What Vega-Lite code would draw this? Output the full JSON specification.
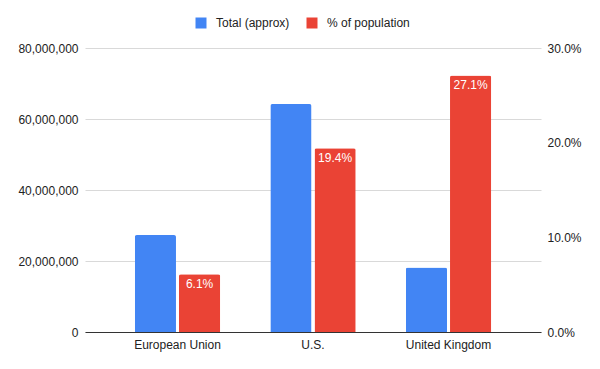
{
  "$schema": "https://vega.github.io/schema/vega-lite/v6.json",
  "width": 456,
  "height": 284,
  "autosize": "none",
  "padding": {"left": 85, "top": 48, "right": 59, "bottom": 37},
  "background": "white",
  "config": {
    "font": "Liberation Sans",
    "view": {"stroke": null},
    "axis": {"labelFont": "Liberation Sans", "labelFontSize": 12, "labelColor": "#222222", "titleFontSize": 12, "labelOverlap": false}
  },
  "data": {
    "values": [
      {"region": "European Union", "series": "Total (approx)", "total": 27300000},
      {"region": "U.S.", "series": "Total (approx)", "total": 64200000},
      {"region": "United Kingdom", "series": "Total (approx)", "total": 18200000},
      {"region": "European Union", "series": "% of population", "pct": 0.061},
      {"region": "U.S.", "series": "% of population", "pct": 0.194},
      {"region": "United Kingdom", "series": "% of population", "pct": 0.271}
    ]
  },
  "encoding": {
    "x": {
      "field": "region", "type": "nominal", "sort": null,
      "scale": {"paddingInner": 0.37, "paddingOuter": 0.3675},
      "axis": {"title": null, "labelAngle": 0, "domain": true, "domainColor": "#333333", "ticks": false, "labelPadding": 7}
    },
    "xOffset": {
      "field": "series", "type": "nominal",
      "scale": {"domain": ["Total (approx)", "% of population"], "paddingInner": 0.068, "paddingOuter": 0}
    },
    "color": {
      "field": "series", "type": "nominal",
      "scale": {"domain": ["Total (approx)", "% of population"], "range": ["#4285F4", "#EA4335"]},
      "legend": {
        "title": null, "orient": "none", "direction": "horizontal",
        "legendX": 110, "legendY": -31,
        "symbolType": "square", "symbolSize": 121, "symbolStrokeWidth": 0,
        "labelFontSize": 12, "labelColor": "#222222", "labelOffset": 9, "columnPadding": 16
      }
    }
  },
  "layer": [
    {
      "transform": [{"filter": "datum.series === 'Total (approx)'"}],
      "mark": {"type": "bar", "cornerRadiusTopLeft": 2, "cornerRadiusTopRight": 2},
      "encoding": {
        "y": {
          "field": "total", "type": "quantitative",
          "scale": {"domain": [0, 80000000]},
          "axis": {"title": null, "values": [0, 20000000, 40000000, 60000000, 80000000], "format": ",d", "domain": false, "ticks": false, "labelPadding": 7, "gridColor": "#d9d9d9", "orient": "left", "labelOverlap": false}
        }
      }
    },
    {
      "transform": [{"filter": "datum.series === '% of population'"}],
      "layer": [
        {
          "mark": {"type": "bar", "cornerRadiusTopLeft": 2, "cornerRadiusTopRight": 2},
          "encoding": {
            "y": {
              "field": "pct", "type": "quantitative",
              "scale": {"domain": [0, 0.3]},
              "axis": {"title": null, "orient": "right", "values": [0, 0.1, 0.2, 0.3], "format": ".1%", "grid": false, "domain": false, "ticks": false, "labelPadding": 6, "labelOverlap": false}
            }
          }
        },
        {
          "mark": {"type": "text", "color": "white", "baseline": "top", "dy": 5, "fontSize": 12, "font": "Liberation Sans"},
          "encoding": {
            "y": {"field": "pct", "type": "quantitative"},
            "text": {"field": "pct", "type": "quantitative", "format": ".1%"},
            "color": {"value": "white"}
          }
        }
      ]
    }
  ],
  "resolve": {"scale": {"y": "independent"}}
}
